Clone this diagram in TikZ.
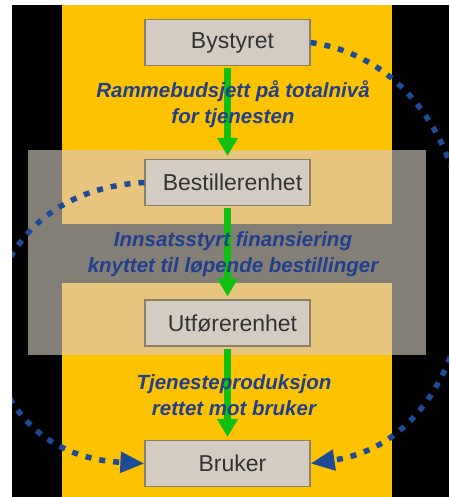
\documentclass[tikz,border=0pt]{standalone}
\usepackage{fontspec}
\setmainfont{Liberation Sans}
\usetikzlibrary{arrows.meta}
\definecolor{bgyellow}{HTML}{FDC300}
\definecolor{lightyel}{HTML}{E8C57C}
\definecolor{bandgray}{HTML}{837E76}
\definecolor{boxfill}{HTML}{D4CCC2}
\definecolor{boxedge}{HTML}{8A7F6A}
\definecolor{arrowgreen}{HTML}{10C010}
\definecolor{dotblue}{HTML}{1F4A96}
\definecolor{labelblue}{HTML}{213F8E}
\definecolor{boxtext}{HTML}{333333}
\begin{document}
\begin{tikzpicture}[x=1pt,y=-1pt,
 unitbox/.style={draw=boxedge, line width=1.2pt, fill=boxfill, minimum width=165pt, minimum height=46pt, inner sep=0pt, font=\fontsize{23}{27}\selectfont, text=boxtext},
 flowarrow/.style={draw=arrowgreen, line width=7pt, -{Triangle[length=18pt,width=20pt]}, shorten >=3pt, shorten <=2pt},
 flowlabel/.style={font=\fontsize{20.5}{25.5}\selectfont\bfseries\itshape, text=labelblue, align=center, inner sep=0pt},
 dotarc/.style={draw=dotblue, line width=5.5pt, dash pattern=on 6pt off 8pt, -{Triangle[length=24pt,width=20pt]}}
]
\useasboundingbox (0,0) rectangle (449,497);
\fill[white] (0,0) rectangle (449,497);
\begin{scope}
\clip (12,5) rectangle (449,497);
\fill[black] (12,5) rectangle (449,497);
\fill[bgyellow] (62,5) rectangle (392,497);
\fill[bandgray] (28,150) rectangle (426,355);
\fill[lightyel] (62,150) rectangle (392,224);
\fill[lightyel] (62,283) rectangle (392,355);

\node[unitbox] (bystyret) at (227.5,42.5) {\hspace*{10pt}Bystyret};
\node[unitbox] (bestiller) at (227.5,182.5) {\hspace*{10pt}Bestillerenhet};
\node[unitbox] (utforer) at (227.5,323) {\hspace*{10pt}Utførerenhet};
\node[unitbox] (bruker) at (227.5,463.5) {\hspace*{10pt}Bruker};

\draw[flowarrow] (bystyret) -- (bestiller);
\draw[flowarrow] (bestiller) -- (utforer);
\draw[flowarrow] (utforer) -- (bruker);

\draw[dotarc] (bystyret.east) .. controls +(205,30) and +(205,-30) .. (bruker.east);
\draw[dotarc] (bestiller.west) .. controls +(-200,10) and +(-200,-10) .. (bruker.west);

\node[flowlabel] (lab1) at (233,104) {Rammebudsjett på totalnivå\\for tjenesten};
\node[flowlabel] (lab2) at (233,254) {Innsatsstyrt finansiering\\knyttet til løpende bestillinger};
\node[flowlabel] (lab3) at (234,395) {Tjenesteproduksjon\\rettet mot bruker};
\end{scope}
\end{tikzpicture}
\end{document}
